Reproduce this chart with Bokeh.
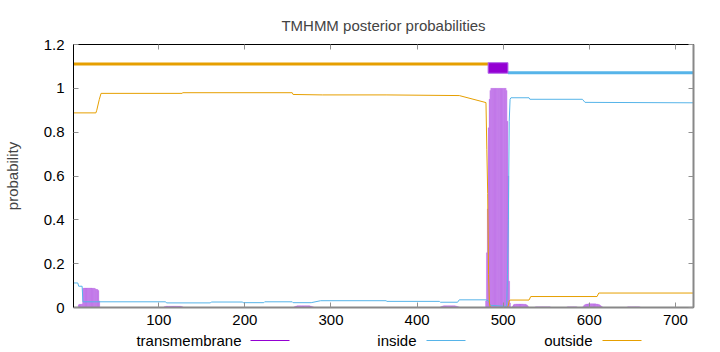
from bokeh.plotting import figure
from bokeh.models import Range1d, FixedTicker, LinearAxis, CustomJSTickFormatter
from bokeh.layouts import column
from bokeh.core.properties import value
from bokeh.embed import file_html
from bokeh.resources import INLINE

# ---------------- data ----------------
seq_len = 721
title_text = "TMHMM posterior probabilities"
y_label = "probability"
x_ticks = [100, 200, 300, 400, 500, 600, 700]
y_ticks = [0, 0.2, 0.4, 0.6, 0.8, 1, 1.2]

# transmembrane posterior probability, per residue (segments: start residue, values)
tm_segments = [
    (7, [0.012, 0.015, 0.015, 0.015, 0.016,
         0.087, 0.089, 0.089, 0.089, 0.089, 0.089, 0.089, 0.089, 0.089, 0.089,
         0.089, 0.088, 0.088, 0.088, 0.087,
         0.083, 0.083, 0.082, 0.078, 0.03]),
    (106, [0.002, 0.004, 0.005, 0.006, 0.006, 0.006, 0.006, 0.006, 0.006, 0.006, 0.006, 0.006,
           0.006, 0.006, 0.006, 0.006, 0.006, 0.006, 0.006, 0.006, 0.005, 0.004, 0.002]),
    (257, [0.002, 0.004, 0.006, 0.007, 0.008, 0.008, 0.008, 0.008, 0.008, 0.008, 0.008, 0.008,
           0.008, 0.008, 0.008, 0.008, 0.008, 0.008, 0.008, 0.007, 0.006, 0.004, 0.003, 0.002]),
    (427, [0.002, 0.004, 0.006, 0.007, 0.008, 0.008, 0.008, 0.008, 0.008, 0.008, 0.008, 0.008,
           0.008, 0.008, 0.008, 0.008, 0.008, 0.008, 0.007, 0.006, 0.004, 0.003, 0.002]),
    (480, [0.03, 0.25, 0.45, 0.82, 0.95, 0.99,
           1.0, 1.0, 1.0, 1.0, 1.0, 1.0, 1.0, 1.0, 1.0, 1.0, 1.0, 1.0, 1.0, 1.0, 1.0, 1.0, 1.0, 1.0,
           0.99, 0.85, 0.6, 0.12, 0.02]),
    (511, [0.006, 0.012, 0.015, 0.015, 0.016, 0.016, 0.016, 0.016, 0.016, 0.016, 0.016, 0.016,
           0.016, 0.015, 0.015, 0.015, 0.013, 0.010, 0.005]),
    (537, [0.002, 0.003, 0.003, 0.003, 0.003, 0.003, 0.003, 0.003, 0.003, 0.003, 0.003, 0.003,
           0.003, 0.003, 0.003, 0.003, 0.003, 0.003, 0.002]),
    (574, [0.002, 0.003, 0.003, 0.003, 0.003, 0.003, 0.003, 0.003, 0.003, 0.003, 0.003, 0.003, 0.002]),
    (593, [0.005, 0.010, 0.013, 0.015, 0.016, 0.016, 0.017, 0.017, 0.017, 0.017, 0.017, 0.017,
           0.017, 0.017, 0.017, 0.016, 0.016, 0.015, 0.014, 0.012, 0.009, 0.006, 0.003]),
    (644, [0.002, 0.003, 0.003, 0.003, 0.003, 0.003, 0.003, 0.003, 0.003, 0.003, 0.003, 0.003,
           0.003, 0.003, 0.003, 0.002]),
]

# inside posterior probability (residue, value)
inside_x = [1, 6, 7, 11, 12, 108, 109, 160, 161, 197, 198, 222, 223, 255, 256, 277, 288,
            364, 365, 426, 427, 447, 449, 480, 483, 484, 485, 504, 505, 506, 507, 508, 509,
            530, 531, 592, 595, 721]
inside_y = [0.112, 0.112, 0.097, 0.097, 0.026, 0.026, 0.021, 0.021, 0.025, 0.025, 0.022, 0.022,
            0.026, 0.026, 0.022, 0.022, 0.031, 0.031, 0.028, 0.028, 0.024, 0.024, 0.035, 0.035,
            0.03, 0.02, 0.01, 0.005, 0.15, 0.4, 0.85, 0.95, 0.957, 0.957, 0.95, 0.95, 0.936, 0.934]

# outside posterior probability (residue, value)
outside_x = [1, 27, 28, 31, 33, 127, 128, 255, 256, 290, 364, 449, 480, 481, 482, 483, 484,
             485, 505, 506, 507, 508, 530, 532, 609, 611, 721]
outside_y = [0.888, 0.888, 0.90, 0.95, 0.977, 0.977, 0.98, 0.98, 0.972, 0.970, 0.970, 0.967,
             0.935, 0.72, 0.52, 0.15, 0.02, 0.0, 0.0, 0.01, 0.03, 0.034, 0.034, 0.05, 0.05,
             0.066, 0.066]

# predicted topology (start, end)
topo_outside = (1, 482)
topo_tm = (483, 505)
topo_inside = (506, 721)
topo_y = {"outside": 1.111, "tm_bottom": 1.069, "tm_top": 1.117, "inside": 1.071}

legend_labels = ["transmembrane", "inside", "outside"]

# ---------------- style ----------------
C_TM = "#9400D3"
C_IN = "#56B4E9"
C_OUT = "#E69F00"
FONT = "Liberation Sans"

tm_x = []
tm_y = []
for start, vals in tm_segments:
    for i, v in enumerate(vals):
        tm_x.append(start + i)
        tm_y.append(v)

p = figure(width=720, height=332, output_backend="svg", toolbar_location=None,
           x_range=Range1d(1, seq_len), y_range=Range1d(0, 1.2),
           min_border_left=73, min_border_right=27, min_border_top=44, min_border_bottom=25)
p.frame_align = False
p.xaxis.visible = False
p.yaxis.visible = False
p.grid.visible = False
p.outline_line_color = "black"
p.outline_line_width = 1
p.background_fill_color = "white"
p.border_fill_color = "white"

p.title.text = title_text
p.title.text_font = FONT
p.title.text_font_size = "15px"
p.title.text_font_style = "normal"
p.title.align = "center"
p.title.standoff = 22

fmt = CustomJSTickFormatter(code="return String(Math.round(tick*10)/10);")
blank = CustomJSTickFormatter(code="return '';")

def style_axis(ax):
    ax.major_tick_in = 5
    ax.major_tick_out = 0
    ax.minor_tick_in = 0
    ax.minor_tick_out = 0
    ax.major_tick_line_color = "#909090"
    ax.major_label_text_font = FONT
    ax.major_label_text_font_size = "15px"
    ax.major_label_text_color = "black"
    ax.axis_label_text_font = FONT
    ax.axis_label_text_font_size = "15px"
    ax.axis_label_text_font_style = "normal"

left = LinearAxis(ticker=FixedTicker(ticks=y_ticks), formatter=fmt, axis_label=y_label)
style_axis(left)
left.axis_line_color = "black"
left.major_label_standoff = 9
left.axis_label_standoff = 20
p.add_layout(left, "left")

below = LinearAxis(ticker=FixedTicker(ticks=x_ticks))
style_axis(below)
below.axis_line_color = "#888888"
below.axis_line_width = 2
below.major_label_standoff = 7
p.add_layout(below, "below")

right = LinearAxis(ticker=FixedTicker(ticks=y_ticks), formatter=blank)
style_axis(right)
right.major_label_standoff = 0
right.axis_line_color = "#888888"
right.axis_line_width = 2
p.add_layout(right, "right")

above = LinearAxis(ticker=FixedTicker(ticks=x_ticks), formatter=blank)
style_axis(above)
above.major_label_standoff = 0
above.axis_line_color = "black"
p.add_layout(above, "above")

# transmembrane impulses
p.vbar(x=tm_x, top=tm_y, bottom=0, width=1.0, fill_color="#C783EC",
       line_color="#A43ADB", line_alpha=0.3, line_width=0.6)

# inside / outside curves
p.line(inside_x, inside_y, line_color=C_IN, line_width=1)
p.line(outside_x, outside_y, line_color=C_OUT, line_width=1)

# topology bar
p.line([topo_outside[0], topo_outside[1] + 0.5], [topo_y["outside"]] * 2, line_color=C_OUT, line_width=3)
p.line([topo_inside[0] - 0.5, topo_inside[1]], [topo_y["inside"]] * 2, line_color=C_IN, line_width=3)
p.quad(left=[topo_tm[0] - 0.5], right=[topo_tm[1] + 0.5], bottom=[topo_y["tm_bottom"]],
       top=[topo_y["tm_top"]], fill_color=C_TM, line_color="#B060E8", line_width=1)

# ---------------- legend strip (pixel coordinates of the 720x20 strip) ----------------
lg = figure(width=720, height=20, output_backend="svg", toolbar_location=None,
            x_range=Range1d(0, 720), y_range=Range1d(0, 20),
            min_border=0, min_border_left=0, min_border_right=0, min_border_top=0, min_border_bottom=0)
lg.frame_align = False
lg.axis.visible = False
lg.grid.visible = False
lg.outline_line_color = None
lg.background_fill_color = "white"
lg.border_fill_color = "white"

leg_text_right = [241, 416, 592]
leg_line_x0 = [250, 426, 602]
leg_line_x1 = [289, 465, 641]
leg_colors = [C_TM, C_IN, C_OUT]
leg_y = [12, 12, 12]
lg.text(x=leg_text_right, y=leg_y, text=legend_labels, text_font=value(FONT),
        text_font_size="15px", text_align="right", text_baseline="middle", text_color="black")
lg.segment(x0=leg_line_x0, x1=leg_line_x1, y0=leg_y, y1=leg_y, line_color=leg_colors, line_width=1)

layout = column(p, lg, spacing=0)
open("out.html", "w").write(file_html(layout, INLINE))
